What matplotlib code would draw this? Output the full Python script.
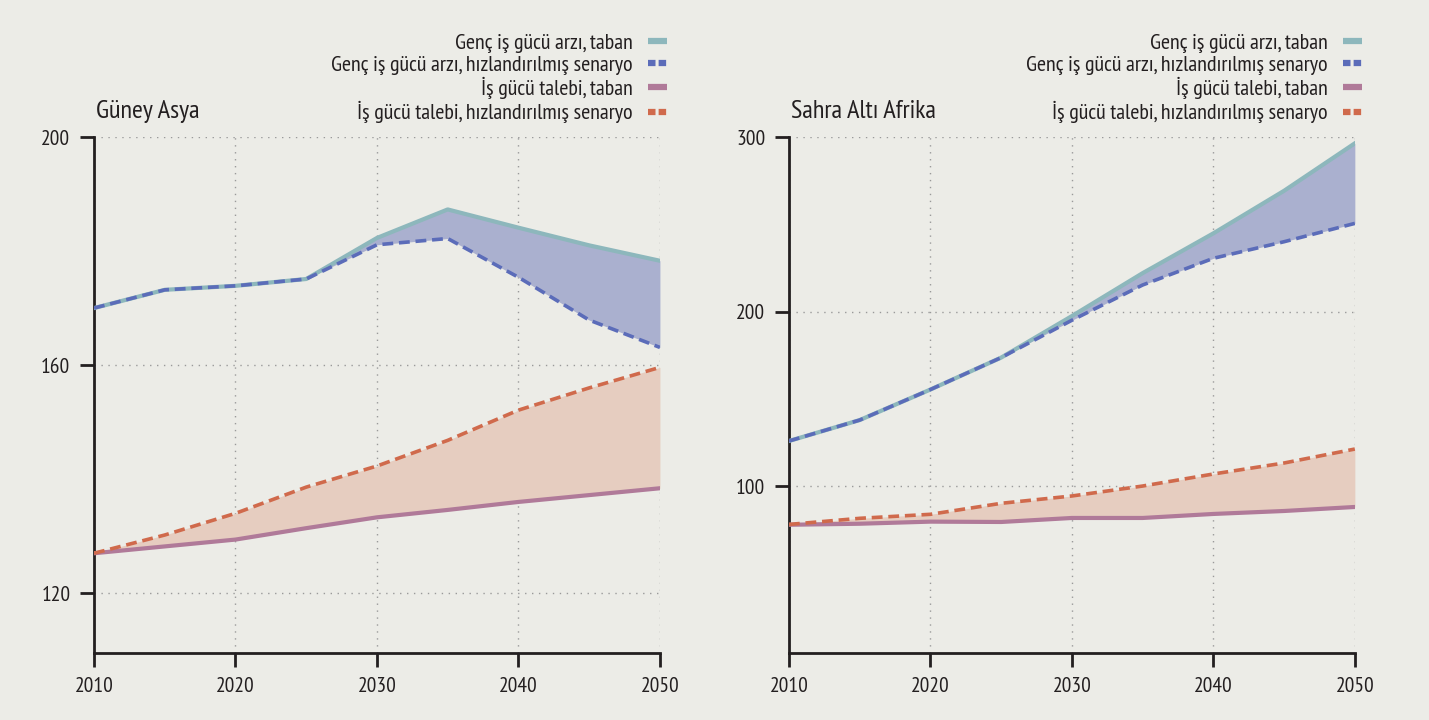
import numpy as np
import matplotlib.pyplot as plt
from matplotlib.lines import Line2D

plt.rcParams['font.family'] = ['PT Sans Narrow', 'DejaVu Sans']

years = [2010, 2015, 2020, 2025, 2030, 2035, 2040, 2045, 2050]

# Güney Asya
sa_supply_base = [170.0, 173.2, 173.9, 175.1, 182.3, 187.3, 184.1, 181.0, 178.3]
sa_supply_acc = [170.0, 173.2, 173.9, 175.1, 181.1, 182.2, 175.4, 167.9, 163.1]
sa_demand_base = [127.0, 128.2, 129.4, 131.4, 133.3, 134.6, 136.0, 137.2, 138.4]
sa_demand_acc = [127.0, 130.2, 134.0, 138.6, 142.3, 146.8, 152.1, 156.0, 159.6]

# Sahra Altı Afrika
ssa_supply_base = [125.8, 137.8, 155.3, 173.6, 197.4, 222.0, 244.8, 269.2, 296.4]
ssa_supply_acc = [125.8, 137.8, 155.3, 173.6, 195.0, 215.2, 230.5, 240.0, 250.5]
ssa_demand_base = [77.8, 78.4, 79.6, 79.4, 81.7, 81.7, 84.0, 85.7, 88.0]
ssa_demand_acc = [78.0, 81.5, 83.8, 90.1, 94.3, 100.0, 106.9, 113.2, 121.2]

labels = ['Genç iş gücü arzı, taban',
          'Genç iş gücü arzı, hızlandırılmış senaryo',
          'İş gücü talebi, taban',
          'İş gücü talebi, hızlandırılmış senaryo']

bg = '#ECECE7'
ink = '#231F20'
c_supply = '#8DB7BC'
c_supply_acc = '#5B6CB9'
c_demand = '#B07A99'
c_demand_acc = '#D06A4C'
f_supply = '#AAB0CF'
f_demand = '#E6CDC0'


def panel(ax, title, sb, sa, db, da, yticks, ylim):
    ax.set_facecolor(bg)
    ax.fill_between(years, sb, sa, color=f_supply, lw=0, zorder=1)
    ax.fill_between(years, db, da, color=f_demand, lw=0, zorder=1)
    ax.plot(years, sb, color=c_supply, lw=3, zorder=3)
    ax.plot(years, sa, color=c_supply_acc, lw=2.6, dashes=(3, 1.6), zorder=4)
    ax.plot(years, db, color=c_demand, lw=3, zorder=3)
    ax.plot(years, da, color=c_demand_acc, lw=2.6, dashes=(3, 1.6), zorder=4)

    ax.set_xlim(2010, 2050)
    ax.set_ylim(*ylim)
    ax.set_xticks([2010, 2020, 2030, 2040, 2050])
    ax.set_yticks(yticks)
    for s in ['top', 'right']:
        ax.spines[s].set_visible(False)
    for s in ['left', 'bottom']:
        ax.spines[s].set_linewidth(2)
        ax.spines[s].set_color(ink)
    ax.tick_params(axis='both', direction='out', length=10, width=2, color=ink,
                   labelsize=15.5, labelcolor=ink, pad=7)
    ax.grid(True, color='#9A9A9A', linestyle=(0, (1, 4)), linewidth=1, zorder=0)
    ax.set_axisbelow(True)

    ax.text(0.003, 1.028, title, transform=ax.transAxes, fontsize=19, color=ink,
            ha='left', va='bottom')

    handles = [Line2D([], [], color=c_supply, lw=4.5, solid_capstyle='butt'),
               Line2D([], [], color=c_supply_acc, lw=4.5, dashes=(1.2, 0.5), dash_capstyle='butt'),
               Line2D([], [], color=c_demand, lw=4.5, solid_capstyle='butt'),
               Line2D([], [], color=c_demand_acc, lw=4.5, dashes=(1.2, 0.5), dash_capstyle='butt')]
    leg = ax.legend(handles=handles, labels=labels, loc='upper right',
                    bbox_to_anchor=(1.028, 1.217), frameon=False, markerfirst=False,
                    fontsize=15.8, handlelength=0.85, handletextpad=0.7,
                    labelspacing=0.1, borderaxespad=0)
    for t in leg.get_texts():
        t.set_color(ink)
    leg._legend_box.align = 'right'
    for vp in leg._legend_handle_box.get_children():
        vp.align = 'right'


fig = plt.figure(figsize=(14.29, 7.2), dpi=100)
fig.patch.set_facecolor(bg)

ax1 = fig.add_axes([0.0658, 0.093, 0.396, 0.7167])
ax2 = fig.add_axes([0.5521, 0.093, 0.396, 0.7167])

panel(ax1, 'Güney Asya', sa_supply_base, sa_supply_acc, sa_demand_base, sa_demand_acc,
      [120, 160, 200], (109.5, 200))
panel(ax2, 'Sahra Altı Afrika', ssa_supply_base, ssa_supply_acc, ssa_demand_base, ssa_demand_acc,
      [100, 200, 300], (4.3, 300))

fig.savefig('out.png', dpi=100, facecolor=bg)
